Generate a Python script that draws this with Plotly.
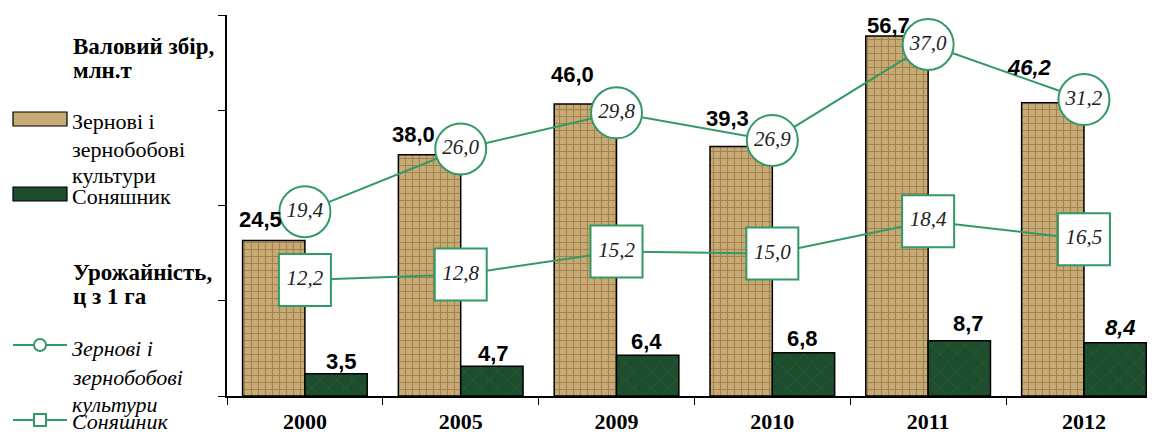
import plotly.graph_objects as go

years = ["2000", "2005", "2009", "2010", "2011", "2012"]
grain_harvest = [24.5, 38.0, 46.0, 39.3, 56.7, 46.2]
sunflower_harvest = [3.5, 4.7, 6.4, 6.8, 8.7, 8.4]
grain_yield = [19.4, 26.0, 29.8, 26.9, 37.0, 31.2]
sunflower_yield = [12.2, 12.8, 15.2, 15.0, 18.4, 16.5]

grain_labels = ["24,5", "38,0", "46,0", "39,3", "56,7", "<i>46,2</i>"]
sunflower_labels = ["3,5", "4,7", "6,4", "6,8", "8,7", "<i>8,4</i>"]
grain_yield_labels = ["19,4", "26,0", "29,8", "26,9", "37,0", "31,2"]
sunflower_yield_labels = ["12,2", "12,8", "15,2", "15,0", "18,4", "16,5"]

# label offsets (px) relative to category centre / bar top
grain_label_dx = [-44, -47, -44, -45, -40, -54]
grain_label_dy = [21, 20, 29, 28, 10, 35]
sun_label_dx = [37, 33, 30, 30, 40, 37]
sun_label_dy = [12, 13, 14, 14, 17, 15]

GREEN = "#339966"
TAN = "#c8aa74"
DARK = "#1d4d2c"
SERIF = "Liberation Serif, Times New Roman, serif"
SANS = "Liberation Sans, Arial, sans-serif"

# page offset (default body margin of the html page)
OFF = 8
L, T, PLOT_W, PLOT_H = 219, 7, 928, 381

fig = go.Figure()

fig.add_trace(go.Bar(
    x=years, y=grain_harvest, name="Зернові і зернобобові культури",
    marker=dict(color=TAN, line=dict(color="black", width=1.5),
                pattern=dict(shape="+", fgcolor="#7a5a2c", size=7, solidity=0.3, fillmode="overlay")),
    showlegend=False,
))
fig.add_trace(go.Bar(
    x=years, y=sunflower_harvest, name="Соняшник",
    marker=dict(color=DARK, line=dict(color="black", width=1.5),
                pattern=dict(shape="x", fgcolor="#2f6b44", size=12, solidity=0.15, fillmode="overlay")),
    showlegend=False,
))

fig.add_trace(go.Scatter(
    x=years, y=grain_yield, yaxis="y2", mode="lines+markers+text",
    line=dict(color=GREEN, width=2),
    marker=dict(symbol="circle", size=51, color="white", line=dict(color=GREEN, width=2)),
    text=grain_yield_labels, textposition="middle center",
    textfont=dict(family=SERIF, size=21, color="#222", style="italic"),
    cliponaxis=False, showlegend=False,
))
fig.add_trace(go.Scatter(
    x=years, y=sunflower_yield, yaxis="y2", mode="lines+markers+text",
    line=dict(color=GREEN, width=2),
    marker=dict(symbol="square", size=52, color="white", line=dict(color=GREEN, width=2)),
    text=sunflower_yield_labels, textposition="middle center",
    textfont=dict(family=SERIF, size=21, color="#222", style="italic"),
    cliponaxis=False, showlegend=False,
))

# bar value labels (x given as category index)
for i, (v, lab, dx, dy) in enumerate(zip(grain_harvest, grain_labels, grain_label_dx, grain_label_dy)):
    fig.add_annotation(x=i, y=v, xref="x", yref="y", text=lab, showarrow=False,
                       xshift=dx, yshift=dy, yanchor="middle",
                       font=dict(family=SANS, size=22, color="black", weight="bold"))
for i, (v, lab, dx, dy) in enumerate(zip(sunflower_harvest, sunflower_labels, sun_label_dx, sun_label_dy)):
    fig.add_annotation(x=i, y=v, xref="x", yref="y", text=lab, showarrow=False,
                       xshift=dx, yshift=dy, yanchor="middle",
                       font=dict(family=SANS, size=22, color="black", weight="bold"))

fig.update_layout(
    width=1155, height=432,
    margin=dict(l=L, r=1155 - L - PLOT_W, t=T, b=432 - T - PLOT_H, autoexpand=False),
    paper_bgcolor="white", plot_bgcolor="white",
    barmode="group", bargap=0.2, bargroupgap=0,
    xaxis=dict(type="category", range=[-0.5, 5.456], showline=True, linecolor="black", linewidth=1.5,
               ticks="outside", ticklen=7, tickcolor="black", tickson="boundaries",
               ticklabelstandoff=5, automargin=False,
               tickfont=dict(family=SERIF, size=22, color="black", weight="bold"),
               showgrid=False, zeroline=False),
    yaxis=dict(range=[0, 60], dtick=15, showline=True, linecolor="black", linewidth=1.5,
               ticks="outside", ticklen=7, tickcolor="black", showticklabels=False,
               showgrid=False, zeroline=False, automargin=False),
    yaxis2=dict(range=[0, 40.1], overlaying="y", visible=False, automargin=False),
)


def px_x(px):
    return (px - OFF - L) / PLOT_W


def px_y(py):
    return (T + PLOT_H - (py - OFF)) / PLOT_H


def txt(x, y, s, size=22, bold=False, italic=False):
    fig.add_annotation(xref="paper", yref="paper", x=px_x(x), y=px_y(y), text=s, showarrow=False,
                       xanchor="left", yanchor="middle", align="left",
                       font=dict(family=SERIF, size=size, color="black",
                                 weight="bold" if bold else "normal",
                                 style="italic" if italic else "normal"))


txt(71, 46, "Валовий збір,", size=23, bold=True)
txt(71, 70, "млн.т", size=23, bold=True)
txt(70, 121, "Зернові і", size=22)
txt(70, 149, "зернобобові", size=22)
txt(70, 176, "культури", size=22)
txt(70, 196, "Соняшник", size=22)
txt(71, 272, "Урожайність,", size=23, bold=True)
txt(71, 296, "ц з 1 га", size=23, bold=True)
txt(70, 348, "Зернові і", size=22, italic=True)
txt(70, 377, "зернобобові", size=22, italic=True)
txt(70, 404, "культури", size=22, italic=True)
txt(70, 421, "Соняшник", size=22, italic=True)


def rect(x0, y0, x1, y1, **kw):
    fig.add_shape(type="rect", xref="paper", yref="paper", x0=px_x(x0), x1=px_x(x1),
                  y0=px_y(y1), y1=px_y(y0), **kw)


rect(13, 112, 67, 126, fillcolor=TAN, line=dict(color="black", width=1.2))
rect(13, 187, 67, 201, fillcolor=DARK, line=dict(color="black", width=1.2))
for yy in (345, 420):
    fig.add_shape(type="line", xref="paper", yref="paper", x0=px_x(13), x1=px_x(67),
                  y0=px_y(yy), y1=px_y(yy), line=dict(color=GREEN, width=2))
fig.add_shape(type="circle", xref="paper", yref="paper", x0=px_x(34), x1=px_x(46),
              y0=px_y(351), y1=px_y(339), fillcolor="white", line=dict(color=GREEN, width=2))
rect(34, 414, 46, 426, fillcolor="white", line=dict(color=GREEN, width=2))

fig.write_html("out.html")
